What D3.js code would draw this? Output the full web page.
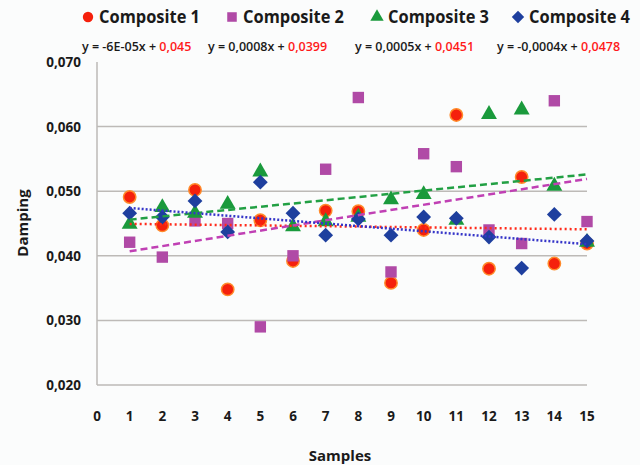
<!DOCTYPE html>
<html>
<head>
<meta charset="utf-8">
<script src="https://cdn.jsdelivr.net/npm/d3@7"></script>
<style>
  body { margin: 0; background: #fbfcfc; }
  svg { display: block; font-family: "Open Sans", "Noto Sans", sans-serif; }
</style>
</head>
<body>
<div id="chart"></div>
<script>
// Data
const samples = d3.range(1, 16);
const composite1 = [0.0491, 0.0447, 0.0502, 0.0348, 0.0455, 0.0392, 0.0470, 0.0469, 0.0358, 0.0440, 0.0618, 0.0380, 0.0522, 0.0388, 0.0419];
const composite2 = [0.0421, 0.0398, 0.0454, 0.0450, 0.0290, 0.0400, 0.0534, 0.0645, 0.0375, 0.0558, 0.0538, 0.0440, 0.0419, 0.0640, 0.0453];
const composite3 = [0.0449, 0.0475, 0.0466, 0.0480, 0.0530, 0.0445, 0.0453, 0.0460, 0.0487, 0.0495, 0.0455, 0.0619, 0.0626, 0.0508, 0.0421];
const composite4 = [0.0466, 0.0460, 0.0485, 0.0437, 0.0514, 0.0466, 0.0432, 0.0457, 0.0432, 0.0460, 0.0458, 0.0429, 0.0381, 0.0464, 0.0423];
const seriesNames = ["Composite 1", "Composite 2", "Composite 3", "Composite 4"];
// trend line equations as printed: y = slope * x + intercept
const slopes = [-0.00006, 0.0008, 0.0005, -0.0004];
const intercepts = [0.045, 0.0399, 0.0451, 0.0478];
const slopeText = ["-6E-05x", "0,0008x", "0,0005x", "-0,0004x"];
const interceptText = ["0,045", "0,0399", "0,0451", "0,0478"];
const xTicks = d3.range(0, 16);
const yTicks = [0.020, 0.030, 0.040, 0.050, 0.060, 0.070];

const colors = ["#f5200c", "#b04aa6", "#1a9a3c", "#1e3f9e"];
const lineColors = ["#ff2a1a", "#c040b4", "#22a044", "#3535c8"];
const shapes = [d3.symbolCircle, d3.symbolSquare, d3.symbolTriangle, d3.symbolSquare];
const sizes = [120, 130, 110, 110];
const rotations = [0, 0, 0, 45];

const width = 640, height = 465;
const x = d3.scaleLinear().domain([0, 15]).range([97, 587]);
const y = d3.scaleLinear().domain([0.020, 0.070]).range([385, 62]);

const comma = d3.formatLocale({ decimal: ",", thousands: ".", grouping: [3], currency: ["", ""] });
const fmt = comma.format(".3f");

const svg = d3.select("#chart").append("svg")
    .attr("width", width)
    .attr("height", height);

// gridlines
svg.append("g")
    .selectAll("line")
    .data(yTicks.slice(0, 5))
    .join("line")
    .attr("x1", x(0))
    .attr("x2", x(15))
    .attr("y1", d => y(d))
    .attr("y2", d => y(d))
    .attr("stroke", "#bdbab7")
    .attr("stroke-width", 1.5);

// y axis line
svg.append("line")
    .attr("x1", x(0)).attr("x2", x(0))
    .attr("y1", y(0.070)).attr("y2", y(0.020))
    .attr("stroke", "#bdbab7")
    .attr("stroke-width", 1.5);

// y tick labels
svg.append("g")
    .selectAll("text")
    .data(yTicks)
    .join("text")
    .attr("x", 81)
    .attr("y", d => y(d) + 5)
    .attr("text-anchor", "end")
    .style("font-size", "13.5px")
    .style("font-weight", "bold")
    .style("fill", "#1a1a1a")
    .text(d => fmt(d));

// x tick labels
svg.append("g")
    .selectAll("text")
    .data(xTicks)
    .join("text")
    .attr("x", d => x(d))
    .attr("y", 421)
    .attr("text-anchor", "middle")
    .style("font-size", "13.5px")
    .style("font-weight", "bold")
    .style("fill", "#1a1a1a")
    .text(d => d);

// axis titles
svg.append("text")
    .attr("x", 340)
    .attr("y", 461)
    .attr("text-anchor", "middle")
    .style("font-size", "15px")
    .style("font-weight", "bold")
    .style("fill", "#1a1a1a")
    .text("Samples");

svg.append("text")
    .attr("transform", "translate(28,223) rotate(-90)")
    .attr("text-anchor", "middle")
    .style("font-size", "15px")
    .style("font-weight", "bold")
    .style("fill", "#1a1a1a")
    .text("Damping");

// markers
const allSeries = [composite1, composite2, composite3, composite4];
allSeries.forEach((values, i) => {
    svg.append("g")
        .selectAll("path")
        .data(values)
        .join("path")
        .attr("transform", (d, j) => `translate(${x(samples[j])},${y(d)}) rotate(${rotations[i]})`)
        .attr("d", d3.symbol().type(shapes[i]).size(sizes[i]))
        .attr("fill", colors[i])
        .attr("stroke", i === 0 ? "#ff8a2a" : "none")
        .attr("stroke-width", 1.5);
});

// trend lines
const dashes = ["2,3", "7,4", "7,4", "2,2"];
slopes.forEach((m, i) => {
    const x0 = samples[0], x1 = samples[samples.length - 1];
    svg.append("line")
        .attr("x1", x(x0)).attr("y1", y(m * x0 + intercepts[i]))
        .attr("x2", x(x1)).attr("y2", y(m * x1 + intercepts[i]))
        .attr("stroke", lineColors[i])
        .attr("stroke-width", 2.5)
        .attr("stroke-dasharray", dashes[i]);
});

// legend
const legendX = [88, 232, 377, 518];
const legend = svg.append("g")
    .selectAll("g")
    .data(seriesNames)
    .join("g")
    .attr("transform", (d, i) => `translate(${legendX[i]},17)`);

legend.append("path")
    .attr("transform", (d, i) => `rotate(${rotations[i]})`)
    .attr("d", (d, i) => d3.symbol().type(shapes[i]).size(sizes[i] * 0.7)())
    .attr("fill", (d, i) => colors[i]);

legend.append("text")
    .attr("x", 11)
    .attr("y", 6)
    .style("font-size", "17px")
    .style("font-weight", "bold")
    .style("fill", "#1a1a1a")
    .attr("textLength", 101)
    .attr("lengthAdjust", "spacingAndGlyphs")
    .text(d => d);

// trend line equations
const eqX = [82, 208, 355, 497];
const eq = svg.append("g")
    .selectAll("text")
    .data(slopes)
    .join("text")
    .attr("x", (d, i) => eqX[i])
    .attr("y", 51)
    .style("font-size", "12.5px")
    .style("font-weight", "600")
    .style("fill", "#1a1a1a");

eq.append("tspan").text((d, i) => `y = ${slopeText[i]} + `);
eq.append("tspan").style("fill", "#ff1a1a").text((d, i) => interceptText[i]);
</script>
</body>
</html>
